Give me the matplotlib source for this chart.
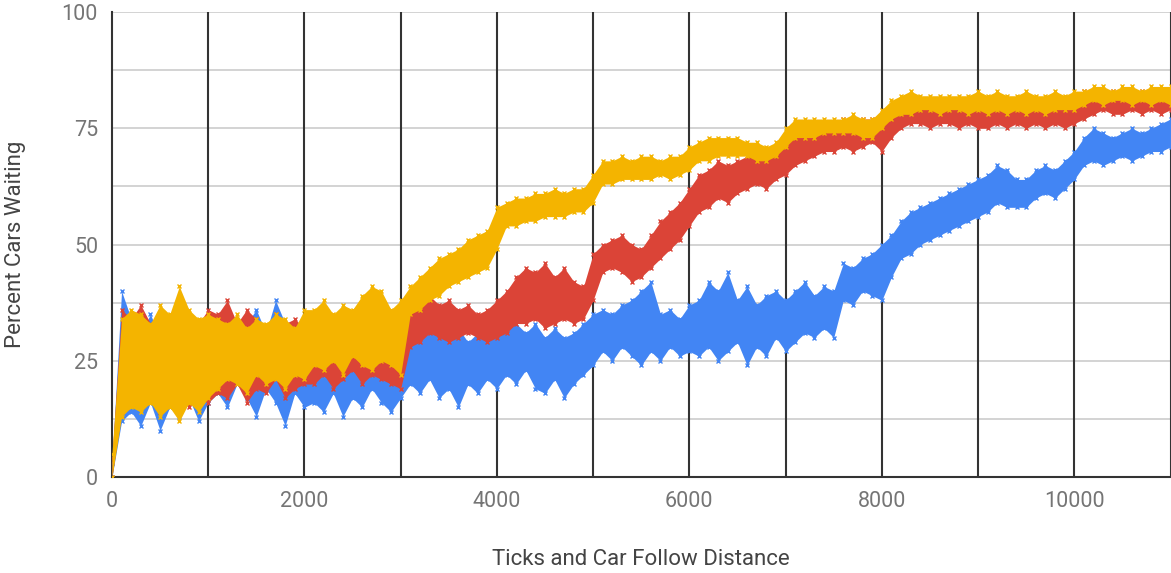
import numpy as np
import matplotlib.pyplot as plt

# sample positions (ticks), every 100
ticks = np.arange(0, 11001, 100)

# envelopes (low / high) for each series
blue_lo = [0, 12, 14, 11, 16, 10, 15, 13, 17, 12, 16,
           18, 15, 20, 17, 13, 19, 16, 11, 18, 15,
           16, 14, 18, 13, 17, 15, 19, 16, 14, 17,
           20, 18, 21, 17, 19, 15, 20, 18, 21, 19,
           22, 20, 23, 19, 18, 21, 17, 20, 22, 24,
           27, 25, 28, 26, 24, 27, 25, 28, 26, 27,
           26, 28, 25, 27, 29, 24, 28, 26, 30, 27,
           29, 31, 30, 32, 30, 38, 37, 40, 39, 38,
           43, 47, 48, 50, 51, 52, 53, 54, 55, 56,
           57, 59, 58, 58, 58, 60, 61, 60, 62, 64,
           67, 68, 67, 68, 69, 68, 69, 70, 70, 71]
blue_hi = [3, 40, 34, 31, 35, 30, 33, 29, 34, 30, 33,
           32, 34, 30, 33, 36, 31, 38, 33, 30, 32,
           30, 28, 31, 27, 30, 29, 32, 28, 30, 33,
           34, 32, 31, 33, 30, 32, 29, 31, 30, 33,
           35, 33, 31, 33, 30, 32, 30, 31, 33, 35,
           36, 35, 37, 38, 40, 42, 35, 36, 34, 37,
           38, 42, 40, 44, 38, 41, 37, 39, 40, 38,
           40, 42, 39, 41, 40, 46, 45, 47, 48, 50,
           52, 55, 57, 58, 59, 60, 61, 62, 63, 64,
           65, 67, 66, 64, 64, 66, 67, 66, 68, 70,
           73, 75, 74, 73, 74, 75, 74, 75, 76, 77]

red_lo = [0, 14, 16, 15, 17, 14, 16, 18, 15, 17, 16,
          18, 17, 20, 16, 19, 18, 21, 17, 19, 20,
          20, 22, 19, 21, 23, 20, 22, 21, 20, 19,
          28, 29, 31, 30, 29, 30, 31, 30, 29, 30,
          31, 33, 33, 34, 32, 33, 34, 33, 34, 38,
          44, 45, 44, 42, 43, 45, 47, 49, 51, 54,
          57, 58, 60, 59, 61, 62, 63, 62, 64, 65,
          67, 68, 69, 70, 70, 71, 70, 71, 72, 70,
          73, 75, 76, 76, 75, 76, 76, 75, 76, 75,
          75, 76, 75, 76, 75, 76, 75, 76, 75, 76,
          77, 78, 79, 78, 78, 79, 78, 79, 78, 79]
red_hi = [4, 36, 34, 37, 33, 35, 32, 38, 34, 33, 36,
          35, 38, 33, 36, 34, 32, 35, 33, 34, 32,
          30, 31, 29, 32, 30, 31, 29, 30, 32, 31,
          38, 40, 39, 37, 38, 36, 37, 35, 36, 38,
          40, 43, 45, 44, 46, 43, 45, 42, 41, 48,
          50, 51, 52, 50, 49, 52, 55, 57, 59, 62,
          65, 66, 68, 67, 68, 69, 70, 69, 70, 71,
          74, 75, 75, 76, 76, 77, 76, 77, 77, 76,
          78, 80, 80, 81, 80, 80, 81, 80, 80, 80,
          80, 80, 80, 80, 80, 80, 80, 80, 80, 81,
          83, 83, 83, 83, 83, 83, 83, 83, 83, 83]

yel_lo = [0, 13, 15, 14, 16, 13, 15, 12, 16, 14, 17,
          19, 21, 20, 18, 22, 20, 21, 19, 22, 21,
          24, 23, 25, 22, 26, 24, 23, 25, 24, 22,
          35, 36, 38, 39, 41, 42, 43, 44, 45, 49,
          54, 54, 55, 55, 56, 56, 56, 57, 57, 59,
          63, 63, 64, 64, 64, 64, 65, 64, 65, 66,
          68, 68, 69, 69, 69, 69, 68, 68, 69, 71,
          73, 73, 73, 74, 74, 74, 74, 73, 73, 75,
          77, 78, 78, 79, 79, 78, 79, 79, 78, 79,
          78, 79, 78, 79, 78, 79, 78, 79, 79, 79,
          80, 81, 80, 81, 81, 80, 81, 80, 81, 80]
yel_hi = [5, 34, 36, 35, 33, 37, 35, 41, 36, 34, 35,
          34, 33, 35, 32, 34, 33, 35, 34, 32, 36,
          36, 38, 35, 37, 36, 39, 41, 40, 36, 38,
          41, 43, 45, 47, 48, 49, 51, 52, 53, 58,
          59, 60, 60, 61, 61, 62, 61, 62, 62, 65,
          68, 68, 69, 68, 69, 69, 68, 69, 69, 71,
          72, 73, 73, 73, 73, 72, 72, 71, 72, 75,
          77, 77, 77, 77, 77, 77, 78, 77, 77, 79,
          81, 82, 83, 82, 82, 82, 82, 82, 82, 83,
          82, 83, 82, 82, 83, 82, 82, 83, 82, 83,
          83, 84, 84, 83, 84, 84, 83, 84, 84, 84]

series = [(blue_lo, blue_hi, '#4285F4'),
          (red_lo, red_hi, '#DB4437'),
          (yel_lo, yel_hi, '#F4B400')]

plt.rcParams['font.family'] = ['Roboto', 'DejaVu Sans']
fig = plt.figure(figsize=(11.71, 5.73), dpi=100)
ax = fig.add_axes([0.0956, 0.1675, 0.904, 0.8115])

for lo, hi, c in series:
    ax.fill_between(ticks, lo, hi, color=c, lw=0, zorder=3)
    ax.plot(ticks, lo, ls='none', marker='x', ms=3, mew=1, color=c, zorder=3)
    ax.plot(ticks, hi, ls='none', marker='x', ms=3, mew=1, color=c, zorder=3)

ax.set_xlim(0, 11000)
ax.set_ylim(0, 100)
ax.set_xticks(range(0, 11001, 2000))
ax.set_yticks([0, 25, 50, 75, 100])
for v in np.arange(12.5, 100.1, 12.5):
    ax.axhline(v, color='#cccccc', lw=1.2, zorder=1)
for v in range(1000, 11001, 1000):
    ax.axvline(v, color='#333333', lw=1.5, zorder=2)
for s in ['top', 'right']:
    ax.spines[s].set_visible(False)
for s in ['left', 'bottom']:
    ax.spines[s].set_color('#333333')
    ax.spines[s].set_linewidth(1.5)
ax.tick_params(length=0, labelsize=15.5, colors='#757575', pad=10)
ax.set_xlabel('Ticks and Car Follow Distance', fontsize=16, color='#444444', labelpad=27)
ax.set_ylabel('Percent Cars Waiting', fontsize=16, color='#444444', labelpad=26)

plt.savefig('out.png')
